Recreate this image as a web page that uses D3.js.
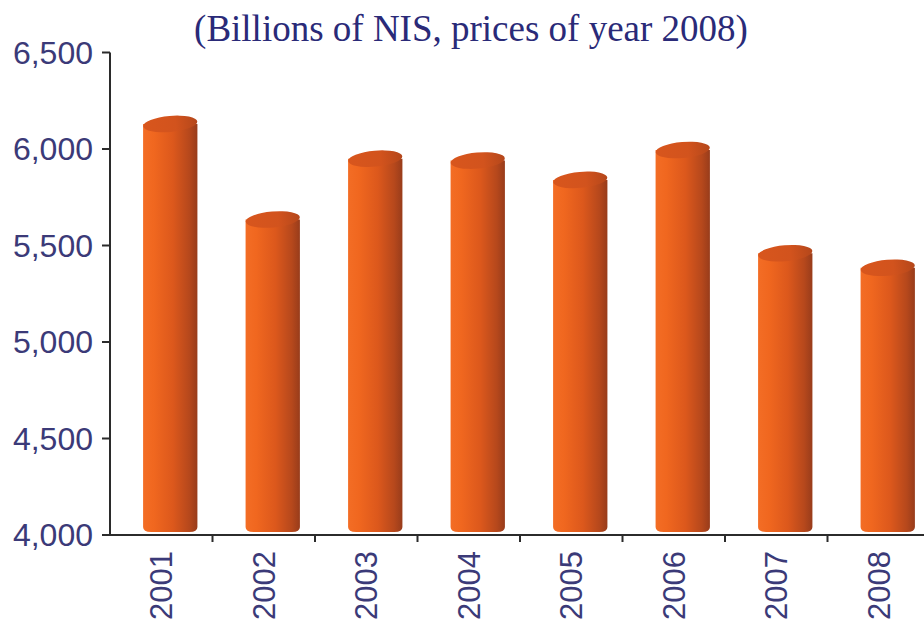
<!DOCTYPE html>
<html>
<head>
<meta charset="utf-8">
<script src="https://cdn.jsdelivr.net/npm/d3@7/dist/d3.min.js"></script>
<style>
  html, body { margin: 0; padding: 0; background: #ffffff; }
  svg { display: block; }
</style>
</head>
<body>
<svg id="chart" width="924" height="625"></svg>
<script>
// Annual values, billions of NIS at 2008 prices
const years = ["2001", "2002", "2003", "2004", "2005", "2006", "2007", "2008"];
const values = [6130, 5635, 5950, 5940, 5840, 5995, 5460, 5385];
const yTicks = [4000, 4500, 5000, 5500, 6000, 6500];
const title = "(Billions of NIS, prices of year 2008)";

const svg = d3.select("#chart");
const W = 924, H = 625;
const plotLeft = 110, plotRight = 930, plotTop = 52.5, plotBottom = 535;

const x = d3.scaleBand().domain(years).range([plotLeft, plotRight]).padding(0);
const y = d3.scaleLinear().domain([4000, 6500]).range([plotBottom, plotTop]);

const defs = svg.append("defs");
const body = defs.append("linearGradient").attr("id", "cylBody")
  .attr("x1", "0%").attr("x2", "100%").attr("y1", "0%").attr("y2", "0%");
[[0, "#f36d25"], [0.2, "#f0671f"], [0.55, "#dc581c"], [0.85, "#b6481c"], [1, "#983c1b"]]
  .forEach(([o, c]) => body.append("stop").attr("offset", o).attr("stop-color", c));
const cap = defs.append("linearGradient").attr("id", "cylCap")
  .attr("x1", "0%").attr("x2", "100%").attr("y1", "0%").attr("y2", "0%");
[[0, "#d8561d"], [0.6, "#d2531d"], [1, "#b4471b"]]
  .forEach(([o, c]) => cap.append("stop").attr("offset", o).attr("stop-color", c));

// Title
svg.append("text")
  .attr("x", 471).attr("y", 41)
  .attr("text-anchor", "middle")
  .attr("font-family", "'Liberation Serif', 'Times New Roman', serif")
  .attr("font-size", 37)
  .attr("fill", "#2a2a78")
  .text(title);

// Cylinders
const barW = x.bandwidth() * 0.53;
const shift = 9;
const ry = 8;
const bars = svg.append("g").selectAll("g").data(years.map((d, i) => ({ year: d, value: values[i] })))
  .join("g");

bars.each(function(d) {
  const g = d3.select(this);
  const cx = x(d.year) + x.bandwidth() / 2 + shift;
  const x0 = cx - barW / 2, x1 = cx + barW / 2;
  const yt = y(d.value), yb = plotBottom - 3;
  g.append("path")
    .attr("d", `M${x0},${yt} L${x0},${yb - ry + 3} Q${x0},${yb} ${x0 + ry},${yb} L${x1 - ry},${yb} Q${x1},${yb} ${x1},${yb - ry + 3} L${x1},${yt} Z`)
    .attr("fill", "url(#cylBody)");
  g.append("ellipse")
    .attr("cx", cx).attr("cy", yt)
    .attr("rx", barW / 2).attr("ry", ry)
    .attr("transform", `rotate(-5 ${cx} ${yt})`)
    .attr("fill", "url(#cylCap)");
});

// Axes
const axisColor = "#2b2b2b";
const labelColor = "#3b3a78";

const gy = svg.append("g");
gy.append("line").attr("x1", plotLeft).attr("x2", plotLeft).attr("y1", plotTop).attr("y2", plotBottom)
  .attr("stroke", axisColor).attr("stroke-width", 2);
gy.selectAll("line.tick").data(yTicks).join("line").attr("class", "tick")
  .attr("x1", plotLeft - 8).attr("x2", plotLeft).attr("y1", d => y(d)).attr("y2", d => y(d))
  .attr("stroke", axisColor).attr("stroke-width", 2);
gy.selectAll("text").data(yTicks).join("text")
  .attr("x", 93).attr("y", d => y(d) + 11)
  .attr("text-anchor", "end")
  .attr("font-family", "'Liberation Sans', Arial, sans-serif")
  .attr("font-size", 32)
  .attr("fill", labelColor)
  .text(d => d3.format(",")(d));

const gx = svg.append("g");
gx.append("line").attr("x1", plotLeft).attr("x2", W).attr("y1", plotBottom).attr("y2", plotBottom)
  .attr("stroke", axisColor).attr("stroke-width", 2);
gx.selectAll("line.tick").data(years).join("line").attr("class", "tick")
  .attr("x1", d => x(d) + x.bandwidth()).attr("x2", d => x(d) + x.bandwidth())
  .attr("y1", plotBottom).attr("y2", plotBottom + 7)
  .attr("stroke", axisColor).attr("stroke-width", 2);
gx.selectAll("text").data(years).join("text")
  .attr("transform", d => `translate(${x(d) + x.bandwidth() / 2 + 11},551) rotate(-90)`)
  .attr("text-anchor", "end")
  .attr("font-family", "'Liberation Sans', Arial, sans-serif")
  .attr("font-size", 31)
  .attr("fill", labelColor)
  .text(d => d);
</script>
</body>
</html>
